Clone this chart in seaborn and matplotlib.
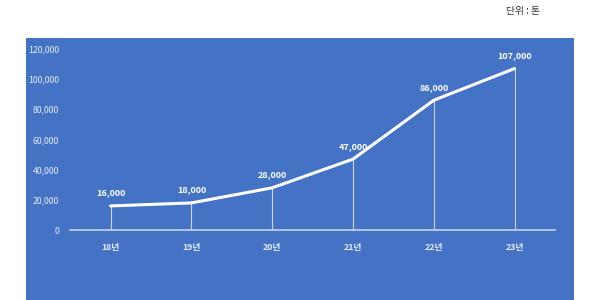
import matplotlib
matplotlib.use("Agg")
import matplotlib.pyplot as plt
import seaborn as sns
import pandas as pd

years = ["18년", "19년", "20년", "21년", "22년", "23년"]
values = [16000, 18000, 28000, 47000, 86000, 107000]
yticks = [0, 20000, 40000, 60000, 80000, 100000, 120000]

sns.set_theme(style="white")
plt.rcParams['font.family'] = ['Noto Sans CJK KR', 'DejaVu Sans']

BLUE = "#4472C4"
fig = plt.figure(figsize=(6, 3), dpi=100)
fig.patch.set_facecolor("white")

bg = fig.add_axes([0.043, 0, 0.914, 0.873], zorder=-5)
bg.set_facecolor(BLUE)
bg.set_xticks([])
bg.set_yticks([])
for s in bg.spines.values():
    s.set_visible(False)

ax = fig.add_axes([0.117, 0.233, 0.808, 0.604], zorder=1)
ax.set_facecolor("none")

df = pd.DataFrame({"year": years, "value": values})
xpos = list(range(len(years)))
df["x"] = xpos

# drop lines
ax.vlines(df["x"], 0, df["value"], colors="white", linewidth=0.8, alpha=0.7, zorder=2)
sns.lineplot(data=df, x="x", y="value", ax=ax, color="white", linewidth=2.2,
             zorder=3, sort=False)

for xi, v in zip(xpos, values):
    ax.annotate(f"{v:,}", (xi, v), xytext=(0, 6), textcoords="offset points",
                ha="center", va="bottom", color="white", fontsize=6.5, fontweight="bold")

ax.set_xlim(-0.5, len(years) - 0.5)
ax.set_ylim(0, 120000)
ax.set_xticks(xpos)
ax.set_xticklabels(years)
ax.set_yticks(yticks)
ax.set_yticklabels([f"{t:,}" for t in yticks])
ax.tick_params(axis="both", colors="#E6ECF7", labelsize=6.3, length=0)
ax.tick_params(axis="x", pad=9)
ax.tick_params(axis="y", pad=8)
for lab in ax.get_xticklabels():
    lab.set_fontweight("bold")
ax.set_xlabel("")
ax.set_ylabel("")
for s in ["top", "right", "left"]:
    ax.spines[s].set_visible(False)
ax.spines["bottom"].set_color("#C9D5EE")
ax.spines["bottom"].set_linewidth(1.2)

fig.text(0.872, 0.962, "단위 : 톤", ha="center", va="center", fontsize=7, color="#333333")

fig.savefig("out.png", dpi=100, facecolor="white")
